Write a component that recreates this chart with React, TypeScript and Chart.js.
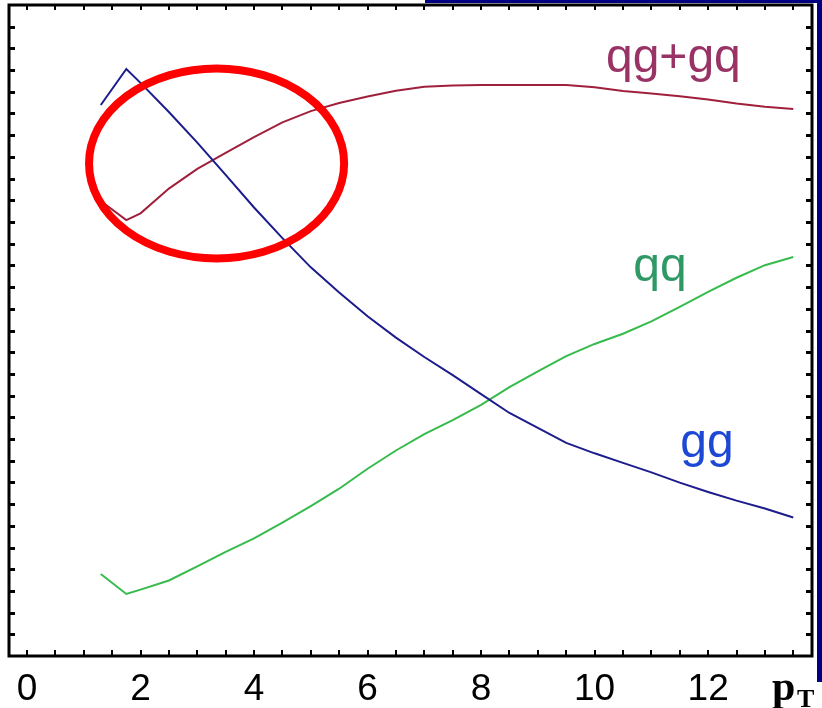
import React, { useEffect, useRef } from "react";
import { Chart, registerables } from "chart.js";

Chart.register(...registerables);

// transverse momentum grid (GeV)
const ptValues = [
  1.3, 1.75, 2, 2.5, 3, 3.5, 4, 4.5, 5, 5.5, 6, 6.5, 7, 7.5, 8, 8.5, 9, 9.5, 10,
  10.5, 11, 11.5, 12, 12.5, 13, 13.5,
];

// relative contribution of each subprocess
const ggValues = [
  25.39, 27.05, 26.41, 25.07, 23.66, 22.17, 20.67, 19.26, 17.91, 16.75, 15.66,
  14.67, 13.78, 12.94, 12.07, 11.2, 10.51, 9.82, 9.34, 8.9, 8.46, 7.99, 7.56,
  7.16, 6.8, 6.38,
];
const qgValues = [
  20.97, 20.09, 20.4, 21.54, 22.45, 23.18, 23.91, 24.59, 25.11, 25.48, 25.78,
  26.05, 26.23, 26.29, 26.31, 26.31, 26.31, 26.31, 26.21, 26.04, 25.92, 25.8,
  25.65, 25.46, 25.31, 25.21,
];
const qqValues = [
  3.78, 2.86, 3.06, 3.48, 4.13, 4.8, 5.42, 6.15, 6.91, 7.71, 8.63, 9.47, 10.22,
  10.87, 11.57, 12.39, 13.12, 13.82, 14.38, 14.85, 15.42, 16.09, 16.78, 17.43,
  18.01, 18.39,
];

// axis ticks
const xTickValues = [
  0, 0.5, 1, 1.5, 2, 2.5, 3, 3.5, 4, 4.5, 5, 5.5, 6, 6.5, 7, 7.5, 8, 8.5, 9,
  9.5, 10, 10.5, 11, 11.5, 12, 12.5, 13, 13.5,
];
const xTickLabels = ["0", "2", "4", "6", "8", "10", "12"];
const yTickValues = [
  1, 2, 3, 4, 5, 6, 7, 8, 9, 10, 11, 12, 13, 14, 15, 16, 17, 18, 19, 20, 21, 22,
  23, 24, 25, 26, 27, 28, 29,
];

// curve labels: text, x, y (data units)
const curveLabelText = ["qg+gq", "qq", "gg"];
const curveLabelX = [10.2, 10.68, 11.51];
const curveLabelY = [26.9, 17.28, 9.17];
const curveLabelColor = ["#993366", "#2f9966", "#1c48d4"];

// highlighted crossing region: centre and radii in data units
const ringCentre = [3.34, 22.7];
const ringRadii = [2.247, 4.378];

const LINE_BLUE = "#1c1c8c";
const LINE_RED = "#a0203c";
const LINE_GREEN = "#36bb4c";

const framePlugin = {
  id: "frame",
  afterDatasetsDraw(chart: any) {
    const { ctx, chartArea, scales } = chart;
    const xs = scales.x;
    const ys = scales.y;
    const { left, right, top, bottom } = chartArea;

    ctx.save();
    // curve labels
    ctx.font = '48px "Liberation Sans", Arial, sans-serif';
    ctx.textAlign = "left";
    ctx.textBaseline = "alphabetic";
    curveLabelText.forEach((t, i) => {
      ctx.fillStyle = curveLabelColor[i];
      ctx.fillText(t, xs.getPixelForValue(curveLabelX[i]), ys.getPixelForValue(curveLabelY[i]));
    });

    // red ring around the crossing
    const cx = xs.getPixelForValue(ringCentre[0]);
    const cy = ys.getPixelForValue(ringCentre[1]);
    const rx = Math.abs(xs.getPixelForValue(ringCentre[0] + ringRadii[0]) - cx);
    const ry = Math.abs(ys.getPixelForValue(ringCentre[1] + ringRadii[1]) - cy);
    ctx.beginPath();
    ctx.ellipse(cx, cy, rx, ry, 0, 0, Math.PI * 2);
    ctx.strokeStyle = "#fe0000";
    ctx.lineWidth = 8;
    ctx.stroke();

    // box
    ctx.strokeStyle = "#000";
    ctx.lineWidth = 3;
    ctx.strokeRect(left, top, right - left, bottom - top);

    // inward tick marks on all four sides
    ctx.lineWidth = 2;
    ctx.beginPath();
    xs.ticks.forEach((t: any) => {
      const px = Math.round(xs.getPixelForValue(t.value));
      if (px <= left + 2 || px >= right - 2) return;
      ctx.moveTo(px, bottom);
      ctx.lineTo(px, bottom - 6);
      ctx.moveTo(px, top);
      ctx.lineTo(px, top + 5);
    });
    ctx.stroke();
    ctx.lineWidth = 3;
    ctx.beginPath();
    ys.ticks.forEach((t: any) => {
      const py = Math.round(ys.getPixelForValue(t.value)) + 0.5;
      if (py <= top + 2 || py >= bottom - 2) return;
      ctx.moveTo(left, py);
      ctx.lineTo(left + 6, py);
      ctx.moveTo(right, py);
      ctx.lineTo(right - 6, py);
    });
    ctx.stroke();
    ctx.restore();
  },
  afterDraw(chart: any) {
    const { ctx, chartArea } = chart;
    const w = chart.width;
    ctx.save();
    // slide frame edges
    ctx.fillStyle = "#000080";
    ctx.fillRect(425, 0, w - 425, 3);
    ctx.fillRect(w - 5, 0, 5, 682);
    // axis variable p_T
    ctx.fillStyle = "#000";
    ctx.textBaseline = "alphabetic";
    ctx.textAlign = "left";
    ctx.font = 'bold 42px "Liberation Serif", "Times New Roman", serif';
    ctx.fillText("p", chartArea.right - 40, 700);
    ctx.font = 'bold 26px "Liberation Serif", "Times New Roman", serif';
    ctx.fillText("T", chartArea.right - 15, 707);
    ctx.restore();
  },
};

export default function App() {
  const ref = useRef<HTMLCanvasElement | null>(null);

  useEffect(() => {
    if (!ref.current) return;
    const mk = (data: number[], color: string) => ({
      data: ptValues.map((x, i) => ({ x, y: data[i] })),
      borderColor: color,
      borderWidth: 2,
      pointRadius: 0,
      tension: 0,
      fill: false,
    });
    const chart = new Chart(ref.current, {
      type: "line",
      data: {
        datasets: [
          mk(ggValues, LINE_BLUE),
          mk(qgValues, LINE_RED),
          mk(qqValues, LINE_GREEN),
        ],
      },
      options: {
        animation: false,
        responsive: false,
        maintainAspectRatio: false,
        layout: { padding: { left: 9, right: 10, top: 5, bottom: 0 } },
        plugins: { legend: { display: false }, tooltip: { enabled: false } },
        scales: {
          x: {
            type: "linear",
            min: -0.317,
            max: 13.83,
            grid: { display: false, drawTicks: false },
            border: { display: false },
            afterBuildTicks: (s: any) => {
              s.ticks = xTickValues.map((v) => ({ value: v }));
            },
            afterFit: (s: any) => {
              s.height = 52;
            },
            ticks: {
              autoSkip: false,
              maxRotation: 0,
              padding: 12,
              color: "#000",
              font: { family: '"Liberation Sans Narrow", "Liberation Sans", sans-serif', size: 37 },
              callback: (v: any) => {
                const n = Number(v);
                return Number.isInteger(n) && n % 2 === 0 ? xTickLabels[n / 2] : "";
              },
            },
          },
          y: {
            type: "linear",
            min: 0,
            max: 30,
            grid: { display: false, drawTicks: false },
            border: { display: false },
            afterBuildTicks: (s: any) => {
              s.ticks = yTickValues.map((v) => ({ value: v }));
            },
            afterFit: (s: any) => {
              s.width = 0;
            },
            ticks: { display: false },
          },
        },
      },
      plugins: [framePlugin],
    });
    return () => chart.destroy();
  }, []);

  return (
    <div style={{ position: "fixed", left: 0, top: 0, width: 822, height: 708, background: "#fff" }}>
      <canvas ref={ref} width={822} height={708} style={{ display: "block" }} />
    </div>
  );
}
